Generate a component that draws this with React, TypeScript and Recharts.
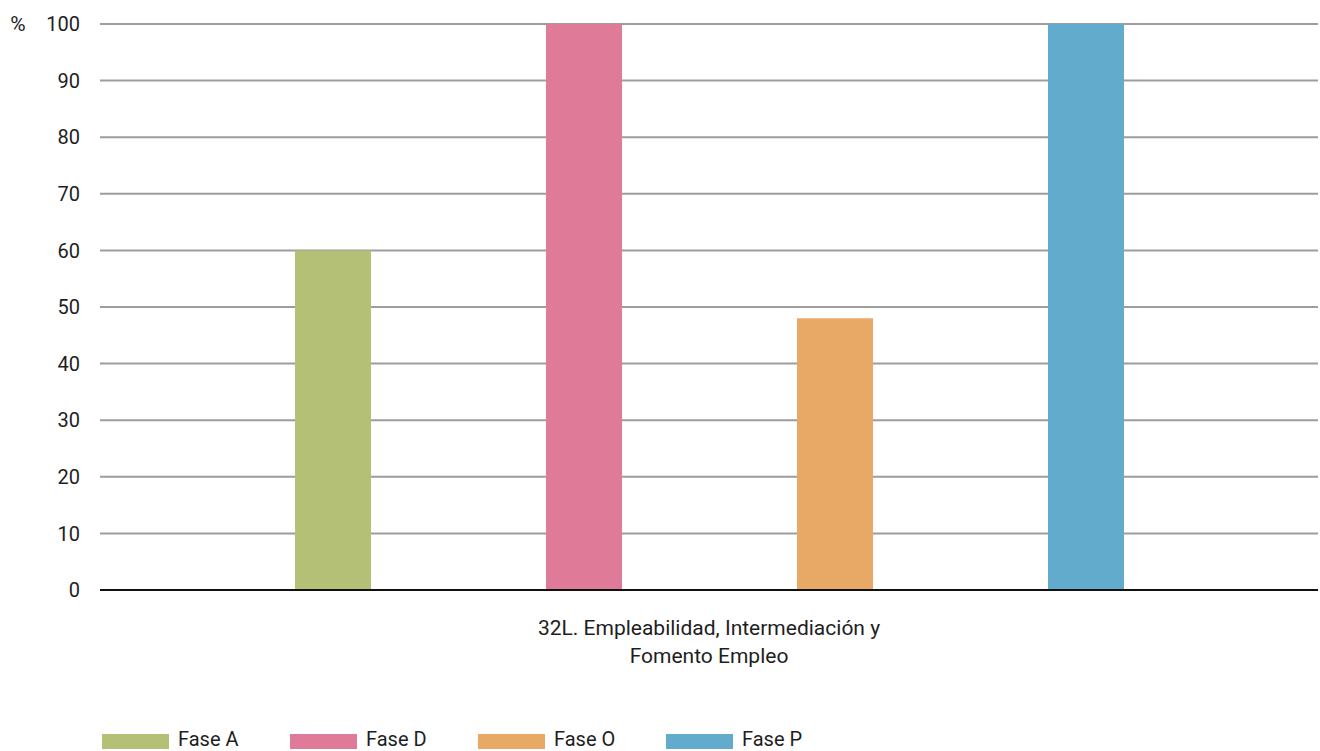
import { BarChart, Bar, XAxis, YAxis, CartesianGrid, Legend } from 'recharts';

const categories = ['32L. Empleabilidad, Intermediación y|Fomento Empleo'];
const faseA = [60];
const faseD = [100];
const faseO = [48];
const faseP = [100];
const yTicks = [0, 10, 20, 30, 40, 50, 60, 70, 80, 90, 100];

const series = [
  { key: 'faseA', name: 'Fase A', color: '#b5c077' },
  { key: 'faseD', name: 'Fase D', color: '#df7a98' },
  { key: 'faseO', name: 'Fase O', color: '#e8a967' },
  { key: 'faseP', name: 'Fase P', color: '#62abcc' },
];

const chartData = categories.map((c, i) => ({
  name: c,
  faseA: faseA[i],
  faseD: faseD[i],
  faseO: faseO[i],
  faseP: faseP[i],
}));

const FONT = 'Roboto, sans-serif';
const TEXT = '#1e1e1e';

function CategoryTick({ x, y, payload }: any) {
  const lines = String(payload.value).split('|');
  return (
    <text x={x} y={y} textAnchor="middle" fill={TEXT} fontFamily={FONT} fontSize={21}>
      {lines.map((l, i) => (
        <tspan key={i} x={x} dy={i === 0 ? 37 : 28}>{l}</tspan>
      ))}
    </text>
  );
}

function PercentLabel({ viewBox }: any) {
  return (
    <text x={18} y={viewBox.y} textAnchor="middle" dominantBaseline="central" fill={TEXT} fontFamily={FONT} fontSize={21}>
      %
    </text>
  );
}

function LegendBox() {
  return (
    <div style={{ height: 40, display: 'flex', alignItems: 'flex-start', paddingLeft: 102, paddingTop: 20, boxSizing: 'border-box' }}>
      {series.map(s => (
        <div key={s.key} style={{ width: 188, height: 16, display: 'flex', alignItems: 'center' }}>
          <span style={{ width: 67, height: 15, background: s.color, display: 'inline-block', marginRight: 9, marginTop: 4 }} />
          <span style={{ fontFamily: FONT, fontSize: 20, color: TEXT, lineHeight: '16px' }}>{s.name}</span>
        </div>
      ))}
    </div>
  );
}

export default function App() {
  return (
    <div style={{ position: 'absolute', left: 0, top: 0, background: '#fff' }}>
      <BarChart width={1320} height={751} data={chartData} margin={{ top: 24, right: 2, left: 0, bottom: 0 }} barSize={76} barGap={175}>
        <CartesianGrid vertical={false} stroke="#9d9d9d" strokeWidth={2} />
        <XAxis
          dataKey="name"
          height={121}
          stroke="#111"
          strokeWidth={2}
          tickLine={false}
          tick={<CategoryTick />}
          interval={0}
        />
        <YAxis
          width={100}
          domain={[0, 100]}
          ticks={yTicks}
          axisLine={false}
          tickLine={false}
          tickSize={0}
          tickMargin={20}
          tick={{ fill: TEXT, fontFamily: FONT, fontSize: 20 }}
          label={<PercentLabel />}
        />
        <Legend
          verticalAlign="bottom"
          align="left"
          content={<LegendBox />}
          wrapperStyle={{ left: 0, width: 1320 }}
        />
        {series.map(s => (
          <Bar key={s.key} dataKey={s.key} name={s.name} fill={s.color} isAnimationActive={false} />
        ))}
      </BarChart>
    </div>
  );
}
